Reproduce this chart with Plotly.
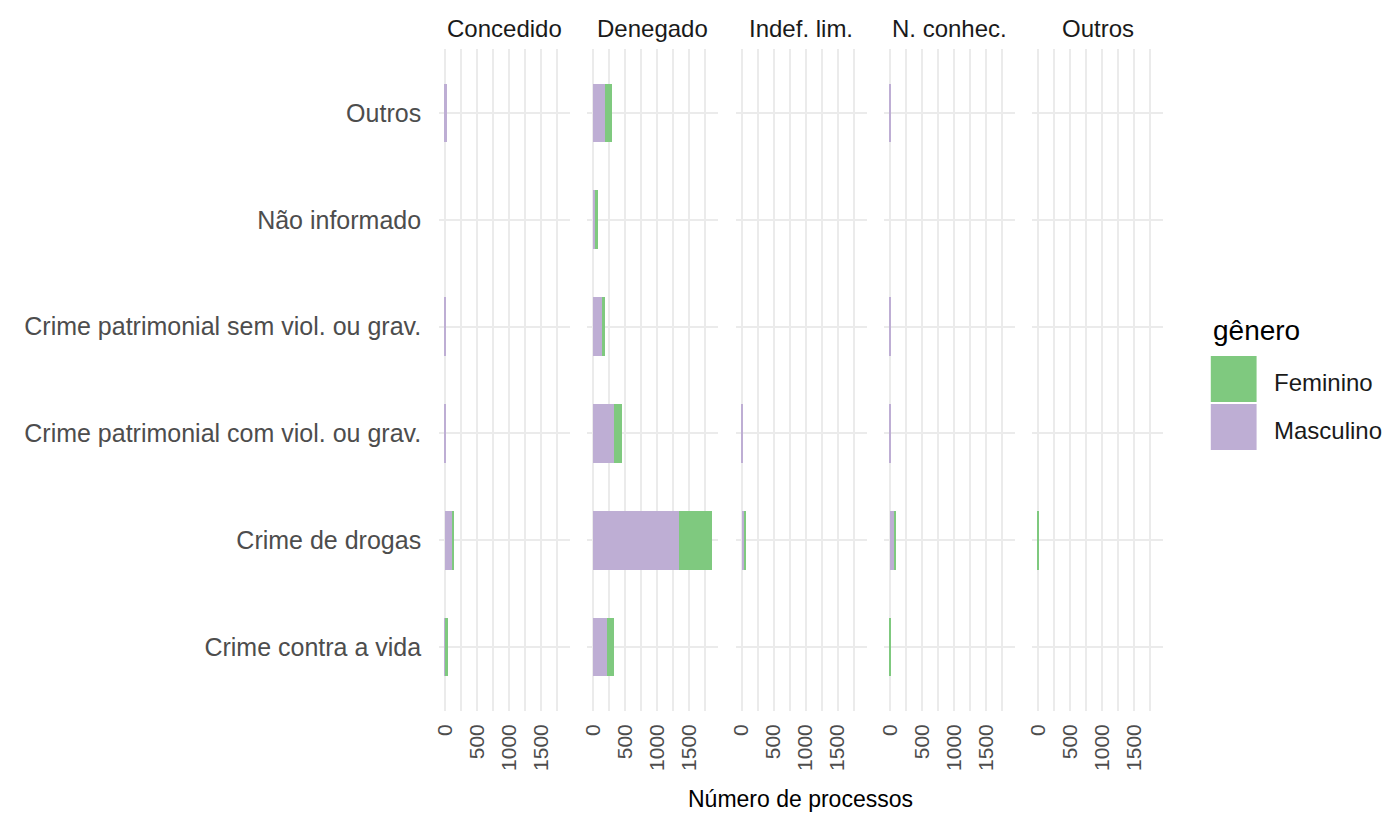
"""Processos por tipo de crime, decisão e gênero (facetas por decisão)."""

import plotly.graph_objects as go
from plotly.subplots import make_subplots

FONT = "Liberation Sans, Arial, sans-serif"
GREEN = "#7FC97F"
PURPLE = "#BEAED4"
GRID = "#EBEBEB"

CATEGORIAS = [
    "Crime contra a vida",
    "Crime de drogas",
    "Crime patrimonial com viol. ou grav.",
    "Crime patrimonial sem viol. ou grav.",
    "Não informado",
    "Outros",
]
DECISOES = ["Concedido", "Denegado", "Indef. lim.", "N. conhec.", "Outros"]

# valores por decisão, na ordem de CATEGORIAS
masc_concedido = [5, 110, 20, 20, 0, 25]
fem_concedido = [40, 35, 0, 0, 0, 0]
masc_denegado = [210, 1340, 317, 140, 45, 182]
fem_denegado = [110, 520, 130, 42, 25, 109]
masc_indef = [0, 45, 15, 0, 0, 0]
fem_indef = [0, 20, 0, 0, 0, 0]
masc_nconhec = [0, 70, 15, 15, 0, 15]
fem_nconhec = [15, 25, 0, 0, 0, 0]
masc_outros = [0, 0, 0, 0, 0, 0]
fem_outros = [0, 20, 0, 0, 0, 0]

MASCULINO = [masc_concedido, masc_denegado, masc_indef, masc_nconhec, masc_outros]
FEMININO = [fem_concedido, fem_denegado, fem_indef, fem_nconhec, fem_outros]

TICKS = [0, 500, 1000, 1500]

# a página tem 8px de margem no body: a figura vai até o canto da janela
OFF = 8
W, H = 1392 - OFF, 813 - OFF


def px(x):
    return (x - OFF) / W


def py(y):
    return 1 - (y - OFF) / H


fig = make_subplots(rows=1, cols=5, shared_yaxes=True)

for i, decisao in enumerate(DECISOES):
    for nome, vals, cor in (
        ("Masculino", MASCULINO[i], PURPLE),
        ("Feminino", FEMININO[i], GREEN),
    ):
        fig.add_trace(
            go.Bar(
                x=vals,
                y=CATEGORIAS,
                orientation="h",
                name=nome,
                width=0.55,
                marker=dict(color=cor, line=dict(width=0)),
                showlegend=False,
            ),
            row=1,
            col=i + 1,
        )

# escala comum, expansão de 5% ao estilo ggplot
maximo = max(m + f for ms, fs in zip(MASCULINO, FEMININO) for m, f in zip(ms, fs))
x_range = [-0.05 * maximo, 1.05 * maximo]

panel_left, panel_w, panel_step = 435, 131.6, 148.9
top_px, bottom_px = 49, 711

for i, decisao in enumerate(DECISOES):
    left = panel_left + i * panel_step
    fig.update_xaxes(
        domain=[px(left), px(left + panel_w)],
        range=x_range,
        tickvals=TICKS,
        tickangle=-90,
        tickfont=dict(family=FONT, size=21, color="#4D4D4D"),
        ticklabelstandoff=8,
        showgrid=True,
        gridcolor=GRID,
        gridwidth=1.5,
        minor=dict(dtick=250, tick0=0, showgrid=True, gridcolor=GRID, gridwidth=1.5),
        zeroline=False,
        showline=False,
        ticks="",
        row=1,
        col=i + 1,
    )
    fig.add_annotation(
        text=decisao,
        xref=f"x{i + 1 if i else ''} domain",
        x=0.5,
        xanchor="center",
        yref="paper",
        y=py(29),
        yanchor="middle",
        showarrow=False,
        font=dict(family=FONT, size=24, color="#1A1A1A"),
    )

fig.update_yaxes(
    domain=[py(bottom_px), py(top_px)],
    range=[-0.6, 5.6],
    categoryorder="array",
    categoryarray=CATEGORIAS,
    showgrid=True,
    gridcolor=GRID,
    gridwidth=1.5,
    zeroline=False,
    showline=False,
    ticks="",
)
fig.update_yaxes(
    tickfont=dict(family=FONT, size=25, color="#4D4D4D"),
    ticklabelstandoff=17,
    row=1,
    col=1,
)

# título do eixo x
fig.add_annotation(
    text="Número de processos",
    xref="paper",
    x=px(798),
    xanchor="center",
    yref="paper",
    y=py(799),
    yanchor="middle",
    showarrow=False,
    font=dict(family=FONT, size=23, color="#000000"),
)

# legenda desenhada à maneira do ggplot
fig.add_annotation(
    text="gênero",
    xref="paper",
    x=px(1210),
    xanchor="left",
    yref="paper",
    y=py(331),
    yanchor="middle",
    showarrow=False,
    font=dict(family=FONT, size=28, color="#000000"),
)
for j, (nome, cor) in enumerate((("Feminino", GREEN), ("Masculino", PURPLE))):
    y0 = 356 + j * 48
    fig.add_shape(
        type="rect",
        xref="paper",
        yref="paper",
        x0=px(1210),
        x1=px(1256),
        y0=py(y0 + 46),
        y1=py(y0),
        fillcolor=cor,
        line=dict(width=0),
    )
    fig.add_annotation(
        text=nome,
        xref="paper",
        x=px(1271),
        xanchor="left",
        yref="paper",
        y=py(y0 + 26),
        yanchor="middle",
        showarrow=False,
        font=dict(family=FONT, size=24, color="#1A1A1A"),
    )

fig.update_layout(
    barmode="stack",
    width=W,
    height=H,
    margin=dict(l=0, r=0, t=0, b=0),
    plot_bgcolor="white",
    paper_bgcolor="white",
    showlegend=False,
)

fig.write_html("out.html")
